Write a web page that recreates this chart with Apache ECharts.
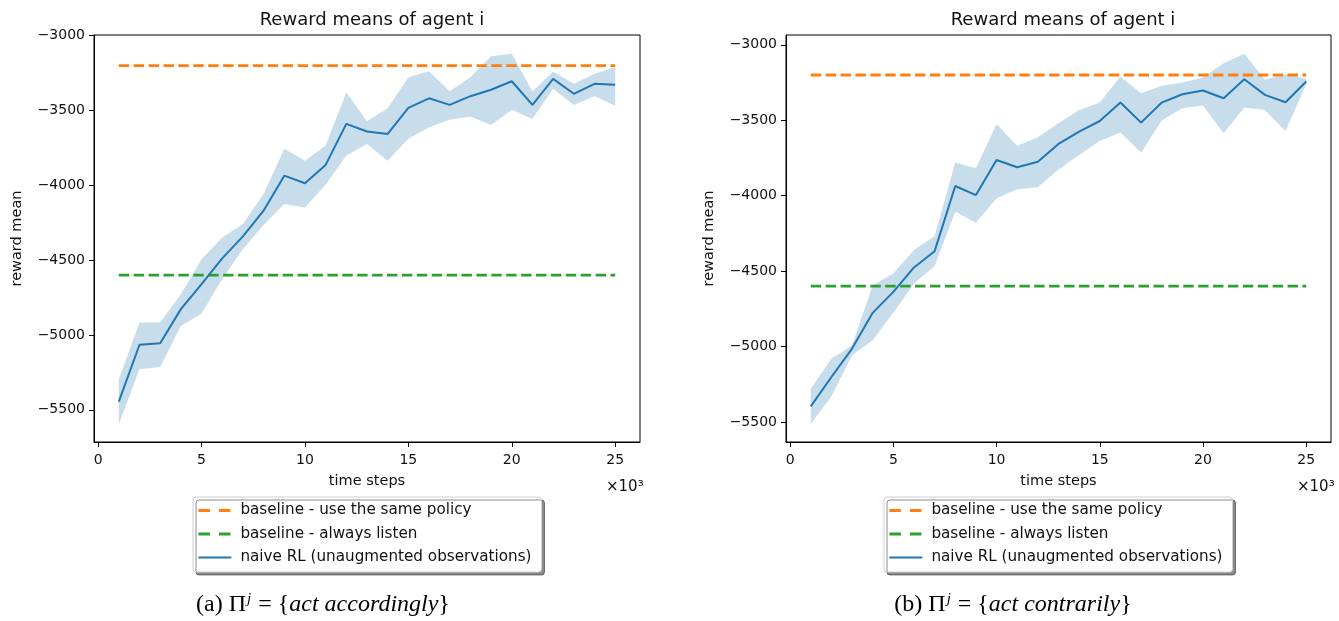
<!DOCTYPE html>
<html>
<head>
<meta charset="utf-8">
<script src="https://cdn.jsdelivr.net/npm/echarts@6/dist/echarts.min.js"></script>
<style>
html,body{margin:0;padding:0;background:#fff;}
#chart{width:1339px;height:621px;}
</style>
</head>
<body>
<div id="chart"></div>
<script>
// ---- data (x in thousands of time steps) ----
var steps = [1,2,3,4,5,6,7,8,9,10,11,12,13,14,15,16,17,18,19,20,21,22,23,24,25];
var baselineSame = [-3200, -3200];
var baselineListen = [-4600, -4600];
var baselineX = [1, 25];

var leftMean  = [-5445,-5065,-5055,-4827,-4660,-4488,-4341,-4169,-3935,-3986,-3863,-3589,-3640,-3656,-3482,-3418,-3462,-3404,-3361,-3304,-3462,-3288,-3388,-3321,-3328];
var leftUpper = [-5296,-4917,-4917,-4727,-4493,-4348,-4258,-4057,-3756,-3835,-3734,-3377,-3571,-3484,-3277,-3237,-3371,-3277,-3137,-3120,-3373,-3239,-3321,-3254,-3210];
var leftLower = [-5597,-5229,-5213,-4939,-4857,-4626,-4426,-4265,-4124,-4147,-3995,-3801,-3723,-3835,-3689,-3612,-3562,-3540,-3596,-3495,-3556,-3355,-3462,-3404,-3467];

var rightMean  = [-5397,-5202,-5014,-4777,-4638,-4476,-4368,-3936,-3996,-3764,-3812,-3775,-3657,-3575,-3505,-3383,-3516,-3383,-3328,-3303,-3354,-3228,-3332,-3381,-3243];
var rightUpper = [-5280,-5081,-4992,-4594,-4516,-4361,-4268,-3781,-3819,-3525,-3671,-3613,-3520,-3432,-3383,-3210,-3321,-3272,-3250,-3217,-3122,-3060,-3232,-3195,-3225];
var rightLower = [-5512,-5331,-5058,-4959,-4777,-4582,-4467,-4107,-4180,-4018,-3958,-3945,-3826,-3730,-3637,-3582,-3715,-3502,-3420,-3403,-3586,-3416,-3432,-3571,-3260];

var xTicks = [0,5,10,15,20,25];
var yTicks = [-5500,-5000,-4500,-4000,-3500,-3000];

var nameSame = 'baseline - use the same policy';
var nameListen = 'baseline - always listen';
var nameRL = 'naive RL (unaugmented observations)';
var titleText = 'Reward means of agent i';

// ---- chart ----
var chart = echarts.init(document.getElementById('chart'), null, {renderer:'canvas'});
var FONT = 'DejaVu Sans';
var TXT = '#111';
var SERIF = 'Liberation Serif';

function pair(xs, ys){ return xs.map(function(x,i){ return [x, ys[i]]; }); }
function fmtMinus(v){ return String(v).replace('-', '\u2212'); }

function xAxis(gi){
  return {
    type:'value', gridIndex:gi, min:-0.2, max:26.2,
    name:'time steps', nameLocation:'middle', nameGap:32,
    nameTextStyle:{fontFamily:FONT, fontSize:14.5, color:TXT},
    splitLine:{show:false},
    axisLine:{show:true, onZero:false, lineStyle:{color:'#000', width:1}},
    axisTick:{show:true, inside:false, length:5, lineStyle:{color:'#000'}, customValues:xTicks},
    axisLabel:{fontFamily:FONT, fontSize:14, color:TXT, margin:11, customValues:xTicks, formatter:fmtMinus}
  };
}
function yAxis(gi, mn, mx){
  return {
    type:'value', gridIndex:gi, min:mn, max:mx,
    name:'reward mean', nameLocation:'middle', nameGap:69, nameRotate:90,
    nameTextStyle:{fontFamily:FONT, fontSize:14.5, color:TXT},
    splitLine:{show:false},
    axisLine:{show:true, onZero:false, lineStyle:{color:'#000', width:1}},
    axisTick:{show:true, inside:false, length:5, lineStyle:{color:'#000'}, customValues:yTicks},
    axisLabel:{fontFamily:FONT, fontSize:14, color:TXT, margin:9, customValues:yTicks, formatter:fmtMinus}
  };
}
function band(gi, upper, lower){
  return {
    type:'custom', name:'band'+gi, xAxisIndex:gi, yAxisIndex:gi, silent:true, z:1,
    clip:true,
    data: steps.map(function(s,i){ return [s, upper[i], lower[i]]; }),
    encode:{x:0, y:[1,2]},
    renderItem:function(params, api){
      if (params.dataIndex !== 0) return null;
      var pts = [];
      for (var i=0;i<steps.length;i++) pts.push(api.coord([steps[i], upper[i]]));
      for (var j=steps.length-1;j>=0;j--) pts.push(api.coord([steps[j], lower[j]]));
      return {type:'polygon', shape:{points:pts}, style:{fill:'rgba(31,119,180,0.25)', stroke:null}};
    }
  };
}
function dashLine(gi, name, ys, color){
  return {
    type:'line', name:name, xAxisIndex:gi, yAxisIndex:gi, z:3,
    data: pair(baselineX, ys), symbol:'none', showSymbol:false, silent:true,
    lineStyle:{color:color, width:2.8, type:[10.4,4.5]}, itemStyle:{color:color}
  };
}
function meanLine(gi, ys){
  return {
    type:'line', name:nameRL, xAxisIndex:gi, yAxisIndex:gi, z:4,
    data: pair(steps, ys), symbol:'none', showSymbol:false, silent:true,
    lineStyle:{color:'#1f77b4', width:2}, itemStyle:{color:'#1f77b4'}
  };
}
function legend(left){
  return {
    left:left, top:497, orient:'vertical',
    data:[
      {name:nameSame, lineStyle:{type:[11.5,9], width:2.8}},
      {name:nameListen, lineStyle:{type:[11.5,9], width:2.8}},
      {name:nameRL, lineStyle:{width:2}}
    ],
    itemWidth:33, itemHeight:15, itemGap:8.5, padding:[6,10,7,4],
    itemStyle:{color:'rgba(0,0,0,0)', borderColor:'rgba(0,0,0,0)', borderWidth:0},
    backgroundColor:'#fff', borderColor:'#cfcfcf', borderWidth:1, borderRadius:3,
    shadowColor:'rgba(0,0,0,0.45)', shadowBlur:0, shadowOffsetX:3, shadowOffsetY:3,
    textStyle:{fontFamily:FONT, fontSize:15.2, color:TXT, padding:[0,0,0,4]},
    selectedMode:false
  };
}
function caption(letter, word, cx){
  var sz = 24;
  var base = {fontFamily:SERIF, fontSize:sz, fontWeight:'normal', color:'#000'};
  return {
    text:'{n|('+letter+') Π}{s|j}{n| = {}{i|'+word+'}}',
    left:cx, top:587, textAlign:'center',
    textStyle:{fontFamily:SERIF, fontSize:sz, fontWeight:'normal', color:'#000', rich:{
      n:base,
      i:{fontFamily:SERIF, fontStyle:'italic', fontSize:sz, fontWeight:'normal', color:'#000'},
      s:{fontFamily:SERIF, fontStyle:'italic', fontSize:15, fontWeight:'normal', color:'#000', verticalAlign:'top', padding:[0,1,11,1]}
    }}
  };
}

var option = {
  animation:false,
  backgroundColor:'#fff',
  title:[
    {text:titleText, left:367, top:6, textAlign:'center', textStyle:{fontFamily:FONT, fontSize:18, fontWeight:'normal', color:TXT}},
    {text:titleText, left:1058, top:6, textAlign:'center', textStyle:{fontFamily:FONT, fontSize:18, fontWeight:'normal', color:TXT}},
    {text:'×10³', left:601, top:475, textStyle:{fontFamily:FONT, fontSize:15, fontWeight:'normal', color:TXT}},
    {text:'×10³', left:1292, top:475, textStyle:{fontFamily:FONT, fontSize:15, fontWeight:'normal', color:TXT}},
    caption('a', 'act accordingly', 318),
    caption('b', 'act contrarily', 1008)
  ],
  legend:[legend(193), legend(884)],
  grid:[
    {left:94, top:35, width:546, height:407, show:true, borderColor:'#000', borderWidth:1, backgroundColor:'transparent'},
    {left:786, top:35, width:545, height:407, show:true, borderColor:'#000', borderWidth:1, backgroundColor:'transparent'}
  ],
  xAxis:[xAxis(0), xAxis(1)],
  yAxis:[yAxis(0, -5715, -2995), yAxis(1, -5633, -2935)],
  series:[
    band(0, leftUpper, leftLower),
    dashLine(0, nameSame, baselineSame, '#ff7f0e'),
    dashLine(0, nameListen, baselineListen, '#2ca02c'),
    meanLine(0, leftMean),
    band(1, rightUpper, rightLower),
    dashLine(1, nameSame, baselineSame, '#ff7f0e'),
    dashLine(1, nameListen, baselineListen, '#2ca02c'),
    meanLine(1, rightMean)
  ]
};
chart.setOption(option);
</script>
</body>
</html>
